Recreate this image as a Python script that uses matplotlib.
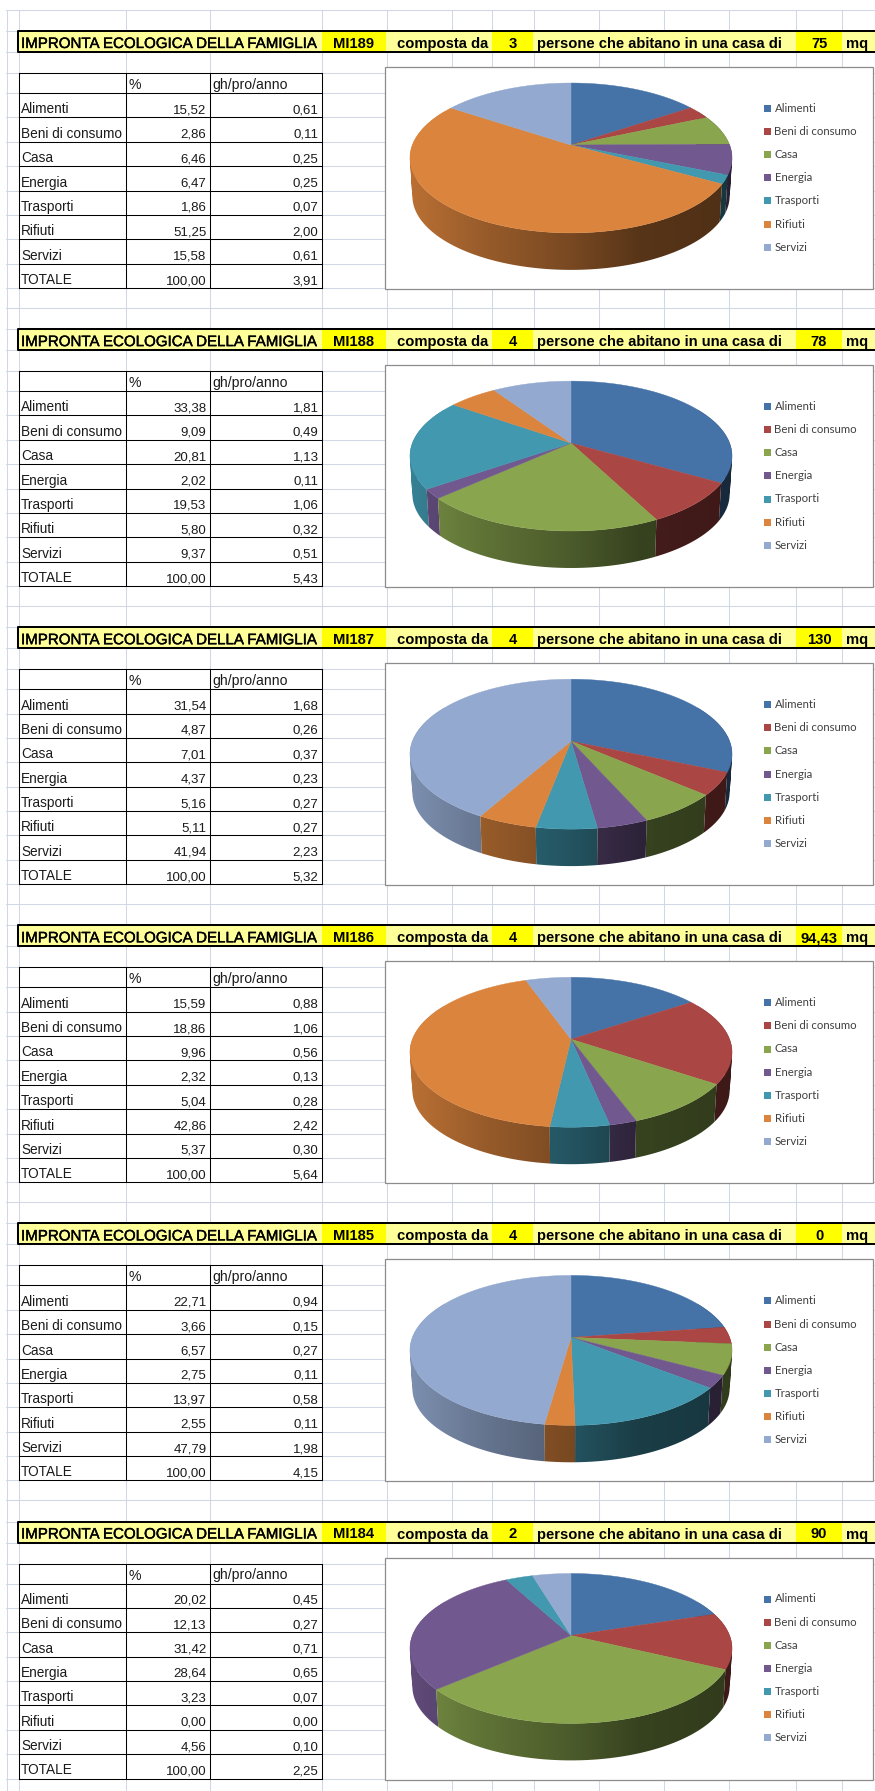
#!/usr/bin/env python3
import numpy as np
import matplotlib as mpl
mpl.use('Agg')
import matplotlib.pyplot as plt
import matplotlib.patheffects as pe
from matplotlib.colors import to_rgb
from matplotlib.patches import PathPatch, Rectangle
from matplotlib.path import Path


##
## Data
##
categories = ['Alimenti', 'Beni di consumo', 'Casa', 'Energia', 'Trasporti', 'Rifiuti', 'Servizi']
colors = ['#4572A7', '#AA4643', '#89A54E', '#71588F', '#4198AF', '#DB843D', '#93A9CF']

codes = ['MI189', 'MI188', 'MI187', 'MI186', 'MI185', 'MI184']
persons = ['3', '4', '4', '4', '4', '2']
surfaces = ['75', '78', '130', '94,43', '0', '90']

pct_mi189 = [15.52, 2.86, 6.46, 6.47, 1.86, 51.25, 15.58]
pct_mi188 = [33.38, 9.09, 20.81, 2.02, 19.53, 5.80, 9.37]
pct_mi187 = [31.54, 4.87, 7.01, 4.37, 5.16, 5.11, 41.94]
pct_mi186 = [15.59, 18.86, 9.96, 2.32, 5.04, 42.86, 5.37]
pct_mi185 = [22.71, 3.66, 6.57, 2.75, 13.97, 2.55, 47.79]
pct_mi184 = [20.02, 12.13, 31.42, 28.64, 3.23, 0.00, 4.56]

gha_mi189 = [0.61, 0.11, 0.25, 0.25, 0.07, 2.00, 0.61]
gha_mi188 = [1.81, 0.49, 1.13, 0.11, 1.06, 0.32, 0.51]
gha_mi187 = [1.68, 0.26, 0.37, 0.23, 0.27, 0.27, 2.23]
gha_mi186 = [0.88, 1.06, 0.56, 0.13, 0.28, 2.42, 0.30]
gha_mi185 = [0.94, 0.15, 0.27, 0.11, 0.58, 0.11, 1.98]
gha_mi184 = [0.45, 0.27, 0.71, 0.65, 0.07, 0.00, 0.10]

gha_totals = [3.91, 5.43, 5.32, 5.64, 4.15, 2.25]

pcts = [pct_mi189, pct_mi188, pct_mi187, pct_mi186, pct_mi185, pct_mi184]
ghas = [gha_mi189, gha_mi188, gha_mi187, gha_mi186, gha_mi185, gha_mi184]


##
## Layout, in pixels of the screenshot
##
W, H = 875, 1791
PERIOD = 298.1
TOP = 31
GRID = '#D0D7E5'
ROW_Y = [42, 62] + [62 + 24.375 * i for i in range(1, 9)]
GRID_X = [6.5, 18.5, 125.5, 209.5, 321.5, 386.5, 451.5, 492, 533.5, 599, 664, 729, 795.5, 842]
COL_X = [18.5, 125.5, 209.5, 321.5]
FONT = 'Liberation Sans'
TXT = '#1a1a1a'

# shading of the pie wall, left to right
SHADE_X = [405, 480, 571, 640, 737]
SHADE_F = [0.86, 0.70, 0.55, 0.40, 0.36]

fig = plt.figure(figsize=(W / 100, H / 100), dpi=100)
ax = fig.add_axes([0, 0, 1, 1])
ax.axis('off')


def fmt(v):
    return f'{v:.2f}'.replace('.', ',')


def px(size):
    return size * 0.72


def gridlines():
    for x in GRID_X:
        ax.plot([x, x], [10, H], color=GRID, lw=0.75, zorder=1)
    ax.plot([6, W], [10, 10], color=GRID, lw=0.75, zorder=1)
    offsets = [0, 21] + ROW_Y + [277]
    for i in range(-1, 7):
        for off in offsets:
            y = TOP + i * PERIOD + off
            if 10 <= y <= H:
                ax.plot([6, W], [y, y], color=GRID, lw=0.75, zorder=1)


def banner(y0, code, n, mq):
    ax.add_patch(Rectangle((18, y0), W - 18, 21, fc='#FFFF99', ec='none', zorder=2))
    for x0, x1 in [(321.5, 386), (491.5, 533), (795.5, 842)]:
        ax.add_patch(Rectangle((x0, y0), x1 - x0, 21, fc='#FFFF00', ec='none', zorder=2))
    ax.plot([W, 18, 18, W], [y0, y0, y0 + 21, y0 + 21], color='k', lw=1.45, zorder=3)
    base = y0 + 17
    ax.text(21, base, 'IMPRONTA ECOLOGICA DELLA FAMIGLIA', family=FONT, fontsize=px(15.1), color='k',
            path_effects=[pe.withStroke(linewidth=0.3, foreground='k')], zorder=4)
    bold = dict(family=FONT, fontsize=px(14.7), fontweight='bold', color='k', zorder=4)
    ax.text(353.5, base, code, ha='center', **bold)
    ax.text(397, base, 'composta da', **bold)
    ax.text(513, base, n, ha='center', **bold)
    ax.text(537, base, 'persone che abitano in una casa di', **bold)
    ax.text(819, base, mq, ha='center', **bold)
    ax.text(846, base, 'mq', **bold)


def table(y0, pct, gha, total):
    ys = [y0 + r for r in ROW_Y]
    for y in ys:
        ax.plot([COL_X[0], COL_X[-1]], [y, y], color='k', lw=0.75, zorder=3)
    for x in COL_X:
        ax.plot([x, x], [ys[0], ys[-1]], color='k', lw=0.75, zorder=3)
    kw = dict(family=FONT, color=TXT, zorder=4)
    ax.text(128.5, ys[1] - 4, '%', fontsize=px(14), **kw)
    ax.text(212, ys[1] - 4, 'gh/pro/anno', fontsize=px(14), **kw)
    labels = categories + ['TOTALE']
    col1 = [fmt(v) for v in pct] + ['100,00']
    col2 = [fmt(v) for v in gha] + [fmt(total)]
    for i, (lab, a, b) in enumerate(zip(labels, col1, col2)):
        base = ys[i + 2] - 4
        ax.text(21, base, lab, fontsize=px(13.6), **kw)
        ax.text(206.5, base, a, ha='right', fontsize=px(13.2), **kw)
        ax.text(318.5, base, b, ha='right', fontsize=px(13.2), **kw)


def rim(theta, cx, cy):
    # perspective view of the disc, theta clockwise from 12 o'clock
    k, a, b = 0.173, 158.6, 72.7
    d = 1 + k * np.cos(theta)
    return cx + a * np.sin(theta) / d, cy - b * np.cos(theta) / d


def wall(t0, t1, color, cx, cy):
    # side of one slice: gradient image clipped to the swept quads of the rim
    t = np.linspace(t0, t1, max(3, int((t1 - t0) * 60)))
    xs, ys = rim(t, cx, cy)
    s, drop = 0.985, 38.3
    xl, yl = cx + s * (xs - cx), cy + drop + s * (ys - cy)
    quads = []
    for j in range(len(t) - 1):
        q = np.array([[xs[j], ys[j]], [xs[j + 1], ys[j + 1]], [xl[j + 1], yl[j + 1]], [xl[j], yl[j]]])
        # same winding everywhere so that the union fills without holes
        area = np.sum(q[:, 0] * np.roll(q[:, 1], -1) - np.roll(q[:, 0], -1) * q[:, 1])
        if area < 0:
            q = q[::-1]
        quads.append(Path(np.vstack([q, q[:1]]), closed=True))
    clip = PathPatch(Path.make_compound_path(*quads), transform=ax.transData, fc='none', ec='none')
    ax.add_patch(clip)
    grad_x = np.linspace(SHADE_X[0], SHADE_X[-1], 340)
    f = np.interp(grad_x, SHADE_X, SHADE_F)
    img = np.outer(f, to_rgb(color))[np.newaxis, :, :]
    im = ax.imshow(img, extent=(SHADE_X[0], SHADE_X[-1], cy + 140, cy - 80), aspect='auto',
                   interpolation='bilinear', zorder=6)
    im.set_clip_path(clip)


def pie3d(y0, values):
    ax.add_patch(Rectangle((384.5, y0 + 36), 488, 222, fc='white', ec='#8C8C8C', lw=0.9, zorder=5))
    cx, cy = 571, y0 + 114
    edges = 2 * np.pi * np.cumsum([0] + list(values)) / np.sum(values)

    # only the near part of the rim can show a wall; far slices go first
    spans = []
    for i, v in enumerate(values):
        t0, t1 = max(edges[i], np.radians(60)), min(edges[i + 1], np.radians(300))
        if v > 0 and t1 > t0:
            spans.append((t0, t1, colors[i]))
    for t0, t1, col in sorted(spans, key=lambda s: -np.cos((s[0] + s[1]) / 2)):
        wall(t0, t1, col, cx, cy)

    # top face
    for i, v in enumerate(values):
        if v <= 0:
            continue
        t = np.linspace(edges[i], edges[i + 1], max(3, int(v * 4)))
        xs, ys = rim(t, cx, cy)
        ax.fill(np.r_[cx, xs], np.r_[cy, ys], color=colors[i], lw=0.3, zorder=7)

    # legend
    for i, lab in enumerate(categories):
        y = y0 + 77.5 + i * 23.1
        ax.add_patch(Rectangle((764, y - 3.5), 7, 7, fc=colors[i], ec='none', zorder=7))
        ax.text(774.5, y, lab, family='Lato', fontsize=px(11.4), color='#404040', va='center', zorder=7)


gridlines()
for b in range(len(codes)):
    y0 = TOP + b * PERIOD
    banner(y0, codes[b], persons[b], surfaces[b])
    table(y0, pcts[b], ghas[b], gha_totals[b])
    pie3d(y0, pcts[b])

ax.set_xlim(0, W)
ax.set_ylim(H, 0)
fig.savefig('out.png', dpi=100, facecolor='white')
